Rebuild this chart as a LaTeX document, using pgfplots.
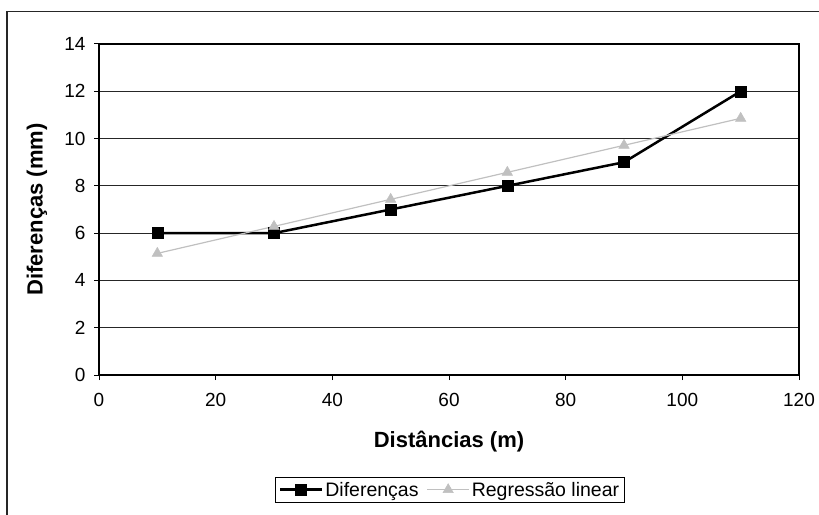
\documentclass[border=0pt]{standalone}
\usepackage{pgfplots}
\pgfplotsset{compat=1.18}
\usepackage{fontspec}
\setmainfont{Liberation Sans}
\definecolor{reggray}{RGB}{192,192,192}
\begin{document}
\begin{tikzpicture}[x=1pt,y=1pt]
\path[use as bounding box] (0,0) rectangle (819,514);
\draw[line width=1.8pt, black!85] (7,-20) -- (7,502.5) -- (840,502.5);
\begin{axis}[
  at={(99pt,139pt)}, anchor=south west,
  scale only axis, width=700pt, height=331pt,
  xmin=0, xmax=120, ymin=0, ymax=14,
  xtick={0,20,...,120}, ytick={0,2,...,14},
  xtick pos=left, ytick pos=left,
  tick align=outside, major tick length=5pt,
  tick style={black, line width=1pt},
  axis line style={black, line width=1.3pt},
  ymajorgrids, major grid style={black!85, line width=0.8pt},
  /pgf/number format/assume math mode=true,
  tick label style={font=\fontsize{19}{22}\selectfont},
  xticklabel style={yshift=-10pt},
  yticklabel style={xshift=-5pt},
  xlabel={\textbf{Distâncias (m)}},
  ylabel={\textbf{Diferenças (mm)}},
  label style={font=\fontsize{22}{26}\selectfont},
  xlabel style={at={(axis description cs:0.5,-0.2024)}, anchor=center},
  ylabel style={at={(axis description cs:-0.0886,0.5)}, anchor=center},
  legend columns=2,
  legend style={at={(axis description cs:0.2521,-0.3082)}, anchor=north west,
    draw=black, line width=0.8pt, font=\fontsize{19.5}{22}\selectfont,
    inner xsep=3pt, inner ysep=2.5pt,
    /tikz/every even column/.append style={column sep=6pt}},
  legend image code/.code={
    \draw[mark repeat=2,mark phase=2,#1] plot coordinates {(0pt,0pt) (21pt,0pt) (42pt,0pt)};},
]
\addplot[black, line width=2.5pt, mark=square*, mark size=5.5pt,
  mark options={solid, line width=0.5pt}]
  coordinates {(10,6) (30,6) (50,7) (70,8) (90,9) (110,12)};
\addlegendentry{Diferenças}
\addplot[reggray, line width=1.2pt, mark=triangle*, mark size=6pt,
  mark options={solid, line width=0.5pt}]
  coordinates {(10,5.143) (30,6.286) (50,7.429) (70,8.571) (90,9.714) (110,10.857)};
\addlegendentry{Regressão linear}
\end{axis}
\end{tikzpicture}
\end{document}
